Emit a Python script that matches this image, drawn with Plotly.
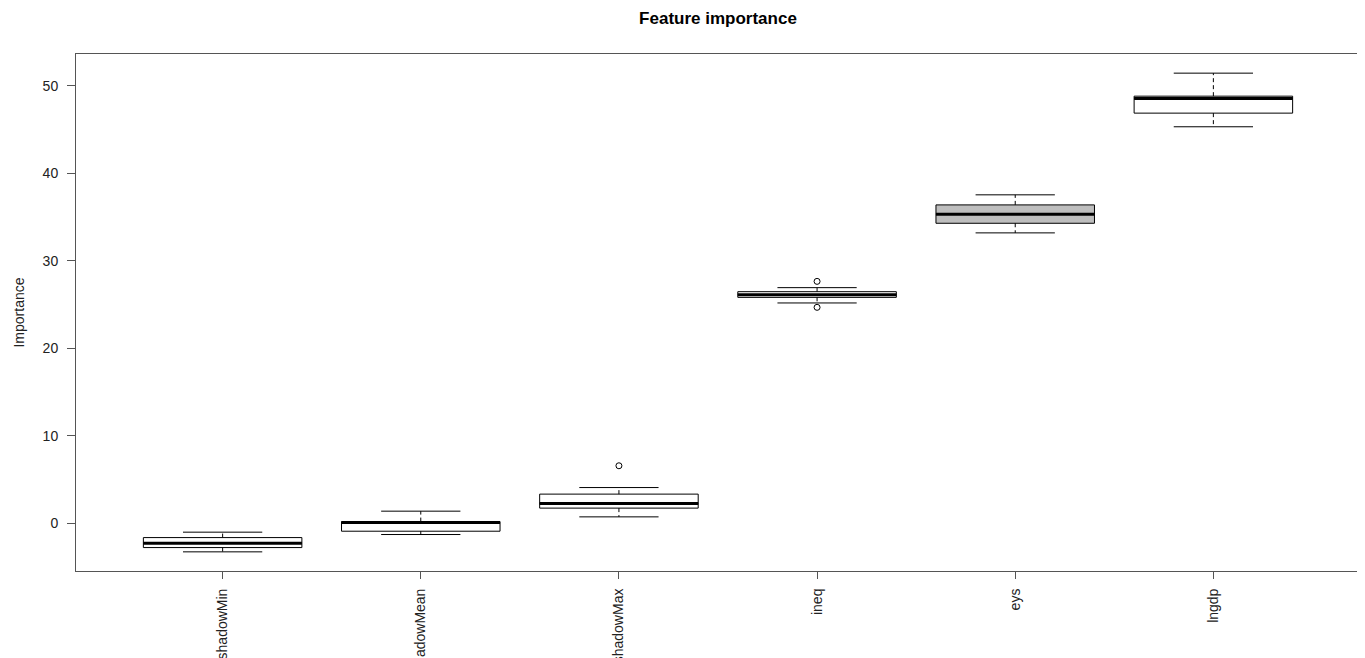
import plotly.graph_objects as go

# ---- data ----
features = ["shadowMin", "shadowMean", "shadowMax", "ineq", "eys", "lngdp"]
whisker_low = [-3.28, -1.30, 0.72, 25.17, 33.18, 45.31]
q1_vals = [-2.79, -0.92, 1.72, 25.81, 34.28, 46.87]
medians = [-2.29, 0.07, 2.24, 26.12, 35.31, 48.55]
q3_vals = [-1.65, 0.18, 3.32, 26.46, 36.38, 48.81]
whisker_high = [-1.03, 1.37, 4.07, 26.92, 37.53, 51.44]
box_fills = ["white", "white", "white", "white", "#BEBEBE", "white"]
outlier_feature = ["shadowMax", "ineq", "ineq"]
outlier_values = [6.56, 27.64, 24.67]

positions = list(range(1, len(features) + 1))
BOXW = 0.8
STAPLE = 0.4

fig = go.Figure()

for i, name in enumerate(features):
    x = positions[i]
    # box body (library box trace with precomputed stats, whiskers drawn separately)
    fig.add_trace(go.Box(
        x=[x], q1=[q1_vals[i]], median=[medians[i]], q3=[q3_vals[i]],
        lowerfence=[q1_vals[i]], upperfence=[q3_vals[i]],
        width=BOXW, whiskerwidth=0, fillcolor=box_fills[i],
        line=dict(color="black", width=1), boxpoints=False,
        hoverinfo="skip", showlegend=False,
    ))
    # dashed whiskers
    fig.add_trace(go.Scatter(
        x=[x, x, None, x, x],
        y=[q3_vals[i], whisker_high[i], None, q1_vals[i], whisker_low[i]],
        mode="lines", line=dict(color="black", width=1, dash="4px,3px"),
        hoverinfo="skip", showlegend=False,
    ))
    # staples
    fig.add_trace(go.Scatter(
        x=[x - STAPLE / 2, x + STAPLE / 2, None, x - STAPLE / 2, x + STAPLE / 2],
        y=[whisker_high[i], whisker_high[i], None, whisker_low[i], whisker_low[i]],
        mode="lines", line=dict(color="black", width=1),
        hoverinfo="skip", showlegend=False,
    ))
    # thick median
    fig.add_trace(go.Scatter(
        x=[x - BOXW / 2, x + BOXW / 2], y=[medians[i], medians[i]],
        mode="lines", line=dict(color="black", width=3),
        hoverinfo="skip", showlegend=False,
    ))

# outliers
fig.add_trace(go.Scatter(
    x=[positions[features.index(f)] for f in outlier_feature], y=outlier_values,
    mode="markers",
    marker=dict(symbol="circle-open", size=6, color="black", line=dict(width=1)),
    hoverinfo="skip", showlegend=False,
))

ymin = min(whisker_low + outlier_values)
ymax = max(whisker_high + outlier_values)
pad = 0.04 * (ymax - ymin)
xpad = 0.04 * (len(features))

font = "Liberation Sans, Arial, sans-serif"
fig.update_layout(
    width=1357, height=650,
    margin=dict(l=68, r=5, t=46, b=87, autoexpand=False),
    paper_bgcolor="white", plot_bgcolor="white",
    font=dict(family=font, size=14, color="#222"),
    title=dict(text="<b>Feature importance</b>", x=0.5232, xanchor="center",
               y=0.985, yanchor="middle", font=dict(size=17, color="black")),
    boxmode="overlay",
    xaxis=dict(
        range=[0.5 - xpad, len(features) + 0.5 + xpad],
        tickmode="array", tickvals=positions, ticktext=features,
        tickangle=-90, ticks="outside", ticklen=7, tickcolor="#555",
        ticklabelstandoff=4,
        showgrid=False, zeroline=False, automargin=False,
        showline=True, mirror=True, linecolor="#555", linewidth=1,
        tickfont=dict(size=14, color="#222"),
    ),
    yaxis=dict(
        range=[ymin - pad, ymax + pad],
        tickmode="array", tickvals=[0, 10, 20, 30, 40, 50],
        ticks="outside", ticklen=8, tickcolor="#555",
        ticklabelstandoff=6,
        showgrid=False, zeroline=False, automargin=False,
        showline=True, mirror=True, linecolor="#555", linewidth=1,
        title=dict(text="Importance", standoff=14, font=dict(size=14, color="#222")),
        tickfont=dict(size=14, color="#222"),
    ),
)

fig.write_html("out.html")
